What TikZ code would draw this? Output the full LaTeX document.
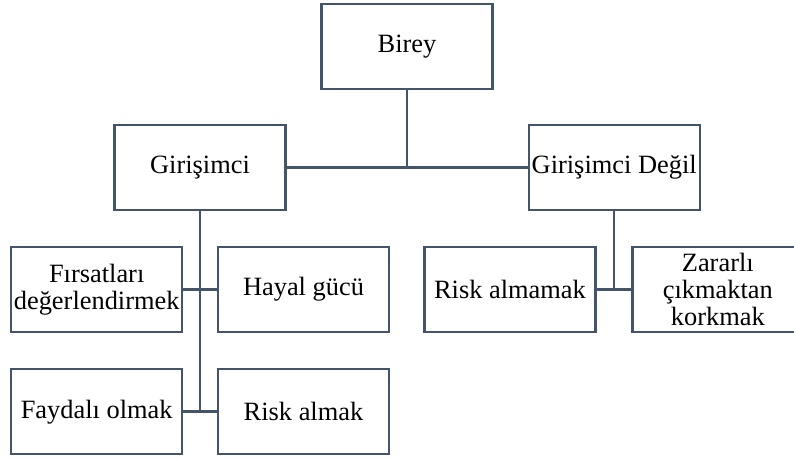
\documentclass[tikz,border=0pt]{standalone}
\usepackage{fontspec}
\setmainfont{Liberation Serif}
\usepackage{xcolor}
\usepackage{tikz}
\definecolor{bg}{HTML}{FFFFFF}
\definecolor{slate}{HTML}{44546A}
\definecolor{text}{HTML}{000000}
\tikzset{
  box/.style={draw=slate, line width=1.2pt, fill=bg, minimum width=85.5pt, minimum height=42.5pt,
    inner sep=1pt, align=center, text=text, font=\fontsize{13.2}{13.5}\selectfont},
  link/.style={draw=slate, line width=1.2pt},
}

\begin{document}
\begin{tikzpicture}[x=0.5pt, y=-0.5pt]
\useasboundingbox[fill=bg] (0,0) rectangle (794,459);

\node[box] (birey) at (407,46.8) {Birey};
\node[box] (gir)   at (200,167.6) {Girişimci};
\node[box] (degil) at (614.2,167.6) {Girişimci Değil};

\node[box] (firsat) at (96.7,289.5) {Fırsatları\\değerlendirmek};
\node[box] (hayal)  at (303.5,289.5) {Hayal gücü};
\node[box] (fayda)  at (96.7,411.7) {Faydalı olmak};
\node[box] (riskal) at (303.5,411.7) {Risk almak};

\node[box] (riskm) at (510,289.5) {Risk almamak};
\node[box] (zarar) at (717.8,289.5) {Zararlı\\çıkmaktan\\korkmak};

% baglantilar
\draw[link] (birey) -- (birey |- gir);
\draw[link] (gir) -- (degil);
\draw[link] (gir) -- (gir |- fayda);
\draw[link] (firsat) -- (hayal);
\draw[link] (fayda) -- (riskal);
\draw[link] (degil) -- (degil |- riskm);
\draw[link] (riskm) -- (zarar);
\end{tikzpicture}
\end{document}
